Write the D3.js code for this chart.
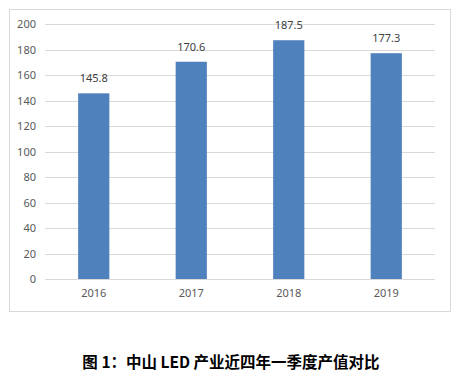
<!DOCTYPE html>
<html><head><meta charset="utf-8">
<script src="https://cdn.jsdelivr.net/npm/d3@7"></script>
<style>body{margin:0;background:#fff;}svg{display:block;}</style>
</head><body>
<svg id="c" width="463" height="387"></svg>
<script>
const categories = ["2016","2017","2018","2019"];
const values = [145.8, 170.6, 187.5, 177.3];
const yTicks = [0,20,40,60,80,100,120,140,160,180,200];
const title = "图 1：中山 LED 产业近四年一季度产值对比";

(function(){
const svg = d3.select("#c");
const font = "'Noto Sans', 'Liberation Sans', sans-serif";
const mLeft = 45, mRight = 435, mTop = 24.3, mBottom = 279;

svg.append("rect").attr("x",9.5).attr("y",9.5).attr("width",441).attr("height",302)
  .attr("fill","#fff").attr("stroke","#d9d9d9").attr("stroke-width",1);

const x = d3.scaleBand().domain(categories).range([mLeft,mRight]).paddingInner(0.68).paddingOuter(0.34);
const y = d3.scaleLinear().domain([0,200]).range([mBottom,mTop]);

const yAxis = svg.append("g").attr("transform",`translate(${mLeft},0)`)
  .call(d3.axisLeft(y).tickValues(yTicks).tickSize(-(mRight-mLeft)).tickPadding(9));
yAxis.select(".domain").remove();
yAxis.selectAll(".tick line").attr("stroke","#d9d9d9").attr("shape-rendering","crispEdges");
yAxis.selectAll(".tick text").attr("fill","#595959").attr("font-size","11px").attr("font-family",font);

const xAxis = svg.append("g").attr("transform",`translate(0,${mBottom})`)
  .call(d3.axisBottom(x).tickSize(0).tickPadding(10));
xAxis.select(".domain").remove();
xAxis.selectAll(".tick text").attr("fill","#595959").attr("font-size","11px").attr("font-family",font);

svg.append("g").selectAll("rect").data(values).join("rect")
  .attr("x",(d,i)=>x(categories[i])).attr("width",x.bandwidth())
  .attr("y",d=>y(d)).attr("height",d=>mBottom-y(d)).attr("fill","#4f81bd");

svg.append("g").selectAll("text").data(values).join("text")
  .attr("x",(d,i)=>x(categories[i])+x.bandwidth()/2).attr("y",d=>y(d)-11)
  .attr("text-anchor","middle").attr("fill","#404040").attr("font-size","11px").attr("font-family",font)
  .text(d=>d.toFixed(1));

svg.append("text").attr("x",231).attr("y",368).attr("text-anchor","middle")
  .attr("font-family","'Noto Sans CJK SC', sans-serif").attr("font-weight","bold").attr("font-size","15.5px")
  .attr("fill","#000").text(title);
})();
</script>
</body></html>
